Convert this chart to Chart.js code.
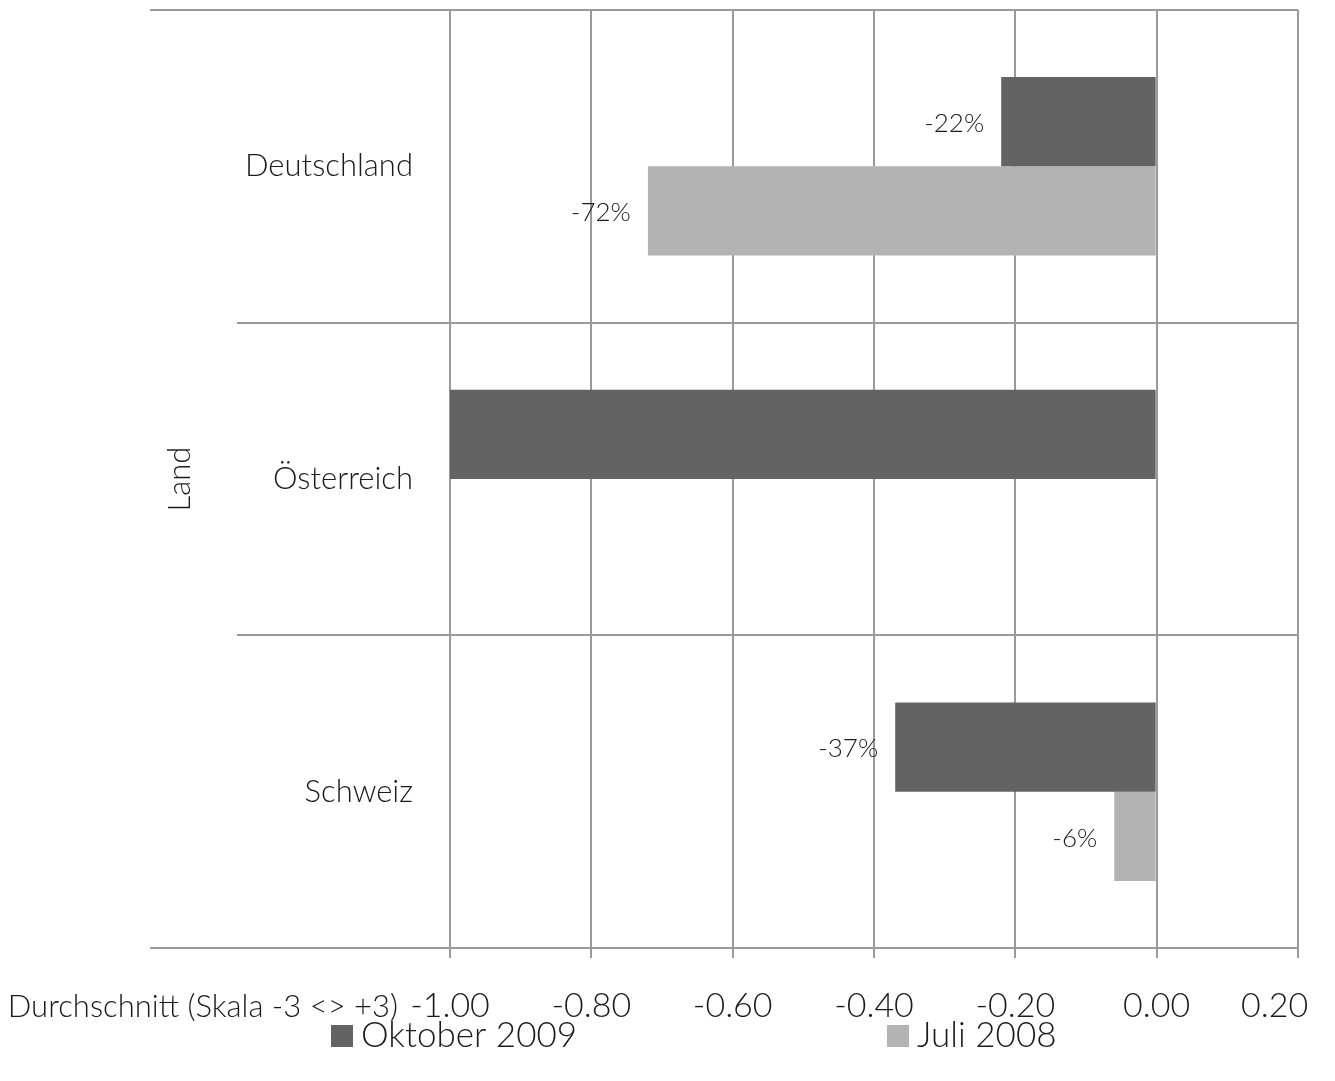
<!DOCTYPE html>
<html>
<head>
<meta charset="utf-8">
<script src="https://cdn.jsdelivr.net/npm/chart.js@4"></script>
<style>
  html, body { margin: 0; padding: 0; background: #fff; }
  #wrap { width: 1335px; height: 1081px; }
</style>
</head>
<body>
<div id="wrap"><canvas id="c" width="1335" height="1081"></canvas></div>
<script>
// Survey averages per country, two survey waves
const countries = ['Deutschland', 'Österreich', 'Schweiz'];
const seriesNames = ['Oktober 2009', 'Juli 2008'];
const oktober2009 = [-0.22, -1.00, -0.37];
const juli2008 = [-0.72, null, -0.06];
const xTickValues = [-1.0, -0.8, -0.6, -0.4, -0.2, 0.0, 0.2];
const xTitle = 'Durchschnitt (Skala -3 <> +3)';
const yTitle = 'Land';

const FONT = 'Lato, "Open Sans", "DejaVu Sans", sans-serif';
const TEXT = '#1a1a1a';
const GRID = '#9a9a9a';
const DARK = '#636363';
const LIGHT = '#b3b3b3';
const tickFont = { family: FONT, size: 34, weight: 300 };
const catFont = { family: FONT, size: 31, weight: 300 };
const captionFont = { family: FONT, size: 31, weight: 300 };
const legendFont = { family: FONT, size: 35, weight: 300 };
const labelFont = { family: FONT, size: 26, weight: 300 };
const css = f => `${f.weight} ${f.size}px ${f.family}`;

// Extends the category separators to the left of the plot and draws
// the axis caption, value labels and legend.
const decorations = {
  id: 'decorations',
  afterDatasetsDraw(chart) {
    const ctx = chart.ctx;
    const area = chart.chartArea;
    const y = chart.scales.y;
    const x = chart.scales.x;
    const n = chart.data.labels.length;

    ctx.save();
    ctx.strokeStyle = GRID;
    ctx.lineWidth = 2;
    for (let i = 0; i <= n; i++) {
      const py = Math.round(y.getPixelForValue(i - 0.5));
      const startX = (i === 0 || i === n) ? 150 : 237;
      ctx.beginPath();
      ctx.moveTo(startX, py);
      ctx.lineTo(area.left, py);
      ctx.stroke();
    }

    // value labels, left of each bar end
    ctx.font = css(labelFont);
    ctx.fillStyle = TEXT;
    ctx.textAlign = 'right';
    ctx.textBaseline = 'middle';
    chart.data.datasets.forEach((ds, di) => {
      const meta = chart.getDatasetMeta(di);
      meta.data.forEach((bar, i) => {
        const v = ds.data[i];
        if (v === null || v === undefined || v <= x.min) return;
        const label = Math.round(v * 100) + '%';
        ctx.fillText(label, bar.x - 17, bar.y + 2);
      });
    });

    // axis caption on the tick label row
    ctx.font = css(captionFont);
    ctx.textAlign = 'right';
    ctx.fillText(xTitle, area.left - 52, area.bottom + 59);

    // legend
    const items = [{ x: 331 }, { x: 887 }];
    ctx.font = css(legendFont);
    chart.data.datasets.forEach((ds, di) => {
      const it = items[di];
      ctx.fillStyle = ds.backgroundColor;
      ctx.fillRect(it.x, 1025, 22, 22);
      ctx.fillStyle = TEXT;
      ctx.textAlign = 'left';
      ctx.fillText(ds.label, it.x + 30, 1036);
    });
    ctx.restore();
  }
};

new Chart(document.getElementById('c'), {
  type: 'bar',
  data: {
    labels: countries,
    datasets: [
      { label: seriesNames[0], data: oktober2009, backgroundColor: DARK },
      { label: seriesNames[1], data: juli2008, backgroundColor: LIGHT }
    ]
  },
  options: {
    indexAxis: 'y',
    responsive: false,
    animation: false,
    layout: { padding: { left: 0, top: 10, right: 37, bottom: 0 } },
    datasets: { bar: { barPercentage: 1, categoryPercentage: 0.571 } },
    plugins: {
      legend: { display: false },
      tooltip: { enabled: false }
    },
    scales: {
      x: {
        type: 'linear',
        min: -1,
        max: 0.2,
        afterBuildTicks: s => { s.ticks = xTickValues.map(v => ({ value: v })); },
        afterFit: s => { s.height = 133; s.paddingLeft = 0; s.paddingRight = 0; },
        ticks: {
          font: tickFont,
          color: TEXT,
          padding: 28,
          maxRotation: 0,
          autoSkip: false,
          callback: v => (v === xTickValues[xTickValues.length - 1])
            ? v.toFixed(2) + '\u2003\u2002\u2009'
            : v.toFixed(2)
        },
        grid: { color: GRID, lineWidth: 2, tickLength: 10 },
        border: { display: false }
      },
      y: {
        afterFit: s => { s.width = 450; s.paddingTop = 0; s.paddingBottom = 0; },
        ticks: { font: catFont, color: TEXT, padding: 37 },
        grid: { offset: true, color: GRID, lineWidth: 2, drawTicks: false },
        border: { display: false },
        title: {
          display: true,
          text: yTitle,
          font: catFont,
          color: TEXT,
          padding: { top: 161, bottom: 0 }
        }
      }
    }
  },
  plugins: [decorations]
});
</script>
</body>
</html>
